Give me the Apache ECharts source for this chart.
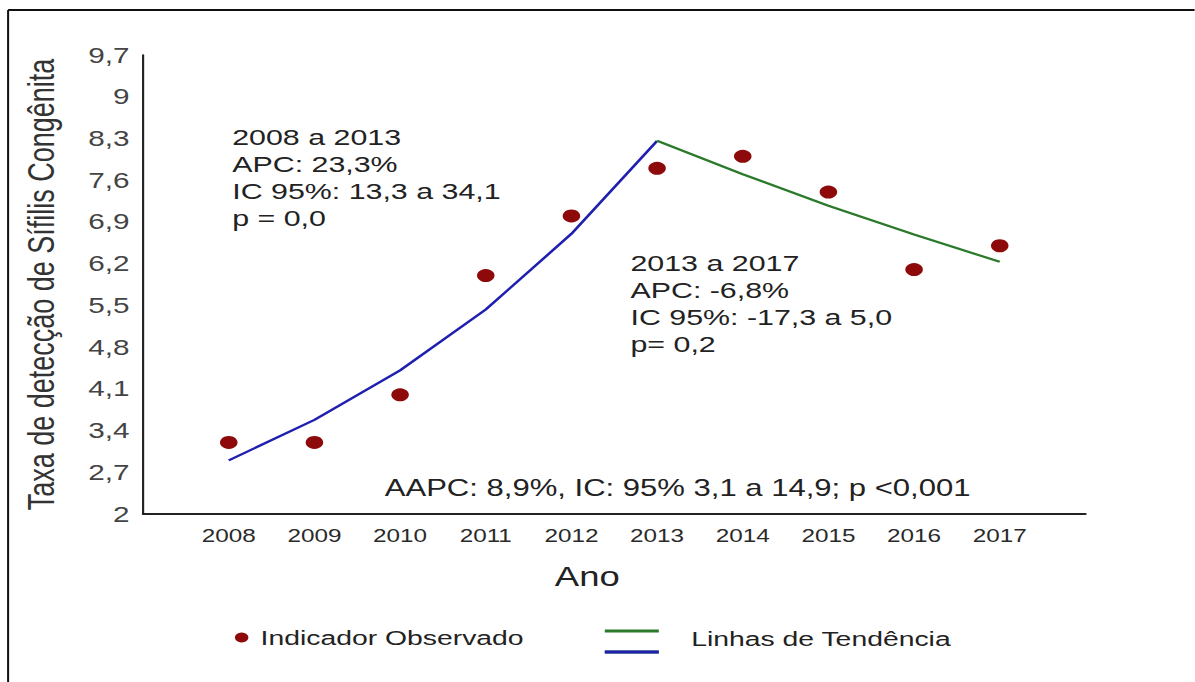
<!DOCTYPE html>
<html>
<head>
<meta charset="utf-8">
<script src="https://cdn.jsdelivr.net/npm/echarts@6/dist/echarts.min.js"></script>
<style>
html,body{margin:0;padding:0;background:#fff;overflow:hidden;width:1195px;height:682px;}
/* the reference picture is stretched horizontally; reproduce that stretch */
#chart{width:885px;height:682px;transform:scaleX(1.35);transform-origin:0 0;}
</style>
</head>
<body>
<div id="chart"></div>
<script>
// ---- data ----
var years = [2008, 2009, 2010, 2011, 2012, 2013, 2014, 2015, 2016, 2017];
var observed = [3.2, 3.2, 4.0, 6.0, 7.0, 7.8, 8.0, 7.4, 6.1, 6.5];
var trend1Years = [2008, 2009, 2010, 2011, 2012, 2013];
var trend1 = [2.9, 3.58, 4.41, 5.43, 6.70, 8.26];
var trend2Years = [2013, 2014, 2015, 2016, 2017];
var trend2 = [8.26, 7.70, 7.17, 6.69, 6.23];
var yMin = 2, yMax = 9.7, yStep = 0.7;
var xMin = 2007, xMax = 2018;
var annot1 = ['2008 a 2013', 'APC: 23,3%', 'IC 95%: 13,3 a 34,1', 'p = 0,0'];
var annot2 = ['2013 a 2017', 'APC: -6,8%', 'IC 95%: -17,3 a 5,0', 'p= 0,2'];
var annot3 = 'AAPC: 8,9%, IC: 95% 3,1 a 14,9; p <0,001';

function pairs(xs, ys) { return xs.map(function (x, i) { return [x, ys[i]]; }); }

var FONT = '"Liberation Sans", Arial, sans-serif';

var chart = echarts.init(document.getElementById('chart'), null, { renderer: 'svg' });
chart.setOption({
  animation: false,
  backgroundColor: '#fff',
  grid: { left: 106, right: 81, top: 55, bottom: 168 },
  xAxis: {
    type: 'value', min: xMin, max: xMax, interval: 1,
    axisLine: { show: true, lineStyle: { color: '#222', width: 2 } },
    axisTick: { show: false },
    splitLine: { show: false },
    axisLabel: {
      margin: 13, color: '#2a2a2a', fontSize: 18, fontFamily: FONT,
      formatter: function (v) { return (v === xMin || v === xMax) ? '' : String(v); }
    }
  },
  yAxis: {
    type: 'value', min: yMin, max: yMax, interval: yStep,
    name: 'Taxa de detecção de Sífilis Congênita',
    nameLocation: 'middle', nameGap: 62, nameRotate: 90,
    nameTextStyle: { fontSize: 27, color: '#333', fontFamily: FONT },
    axisLine: { show: true, lineStyle: { color: '#222', width: 1.6 } },
    axisTick: { show: false },
    splitLine: { show: false },
    axisLabel: {
      margin: 10, color: '#444', fontSize: 22, fontFamily: FONT,
      formatter: function (v) { return String(Math.round(v * 10) / 10).replace('.', ','); }
    }
  },
  legend: [
    {
      data: ['Indicador Observado'], left: 169, top: 622, icon: 'circle',
      itemWidth: 10, itemHeight: 10,
      textStyle: { fontSize: 21, color: '#222', fontFamily: FONT, padding: [0, 0, 0, 4] }
    },
    {
      data: ['Linhas de Tendência'], left: 443, top: 617.5,
      icon: 'path://M0,-7H0.01V-6.99H0Z M0,0H40V3H0Z M0,21H40V24H0Z',
      itemWidth: 40, itemHeight: 31,
      textStyle: { fontSize: 21, color: '#222', fontFamily: FONT, padding: [0, 0, 0, 19] }
    },
    {
      data: ['Tendência 2008-2013'], left: 443, top: 645.5, icon: 'rect', z: 6,
      itemWidth: 40, itemHeight: 3,
      formatter: function () { return ''; },
      textStyle: { fontSize: 1 }
    }
  ],
  series: [
    {
      name: 'Tendência 2008-2013', type: 'line', data: pairs(trend1Years, trend1),
      showSymbol: false, symbol: 'none',
      lineStyle: { color: '#1f1fb0', width: 2.2 }, itemStyle: { color: '#1f1fb0' }, z: 2
    },
    {
      name: 'Linhas de Tendência', type: 'line', data: pairs(trend2Years, trend2),
      showSymbol: false, symbol: 'none',
      lineStyle: { color: '#2b7a2b', width: 2.2 }, itemStyle: { color: '#2b7a2b' }, z: 2
    },
    {
      name: 'Indicador Observado', type: 'scatter', data: pairs(years, observed),
      symbolSize: 13, itemStyle: { color: '#8e0a0a', opacity: 1 }, z: 3
    }
  ],
  graphic: [
    { type: 'line', shape: { x1: 6, y1: 10, x2: 885, y2: 10 }, style: { stroke: '#111', lineWidth: 2 } },
    { type: 'line', shape: { x1: 6, y1: 10, x2: 6, y2: 682 }, style: { stroke: '#111', lineWidth: 1.5 } },
    { type: 'text', left: 172, top: 124, style: { text: annot1.join('\n'), font: '22.5px ' + FONT, fill: '#222', lineHeight: 27 } },
    { type: 'text', left: 467, top: 250, style: { text: annot2.join('\n'), font: '22.5px ' + FONT, fill: '#222', lineHeight: 27 } },
    { type: 'text', left: 285, top: 476, style: { text: annot3, font: '23px ' + FONT, fill: '#222' } },
    { type: 'text', left: 411, top: 563, style: { text: 'Ano', font: '27px ' + FONT, fill: '#222' } }
  ]
});
</script>
</body>
</html>
